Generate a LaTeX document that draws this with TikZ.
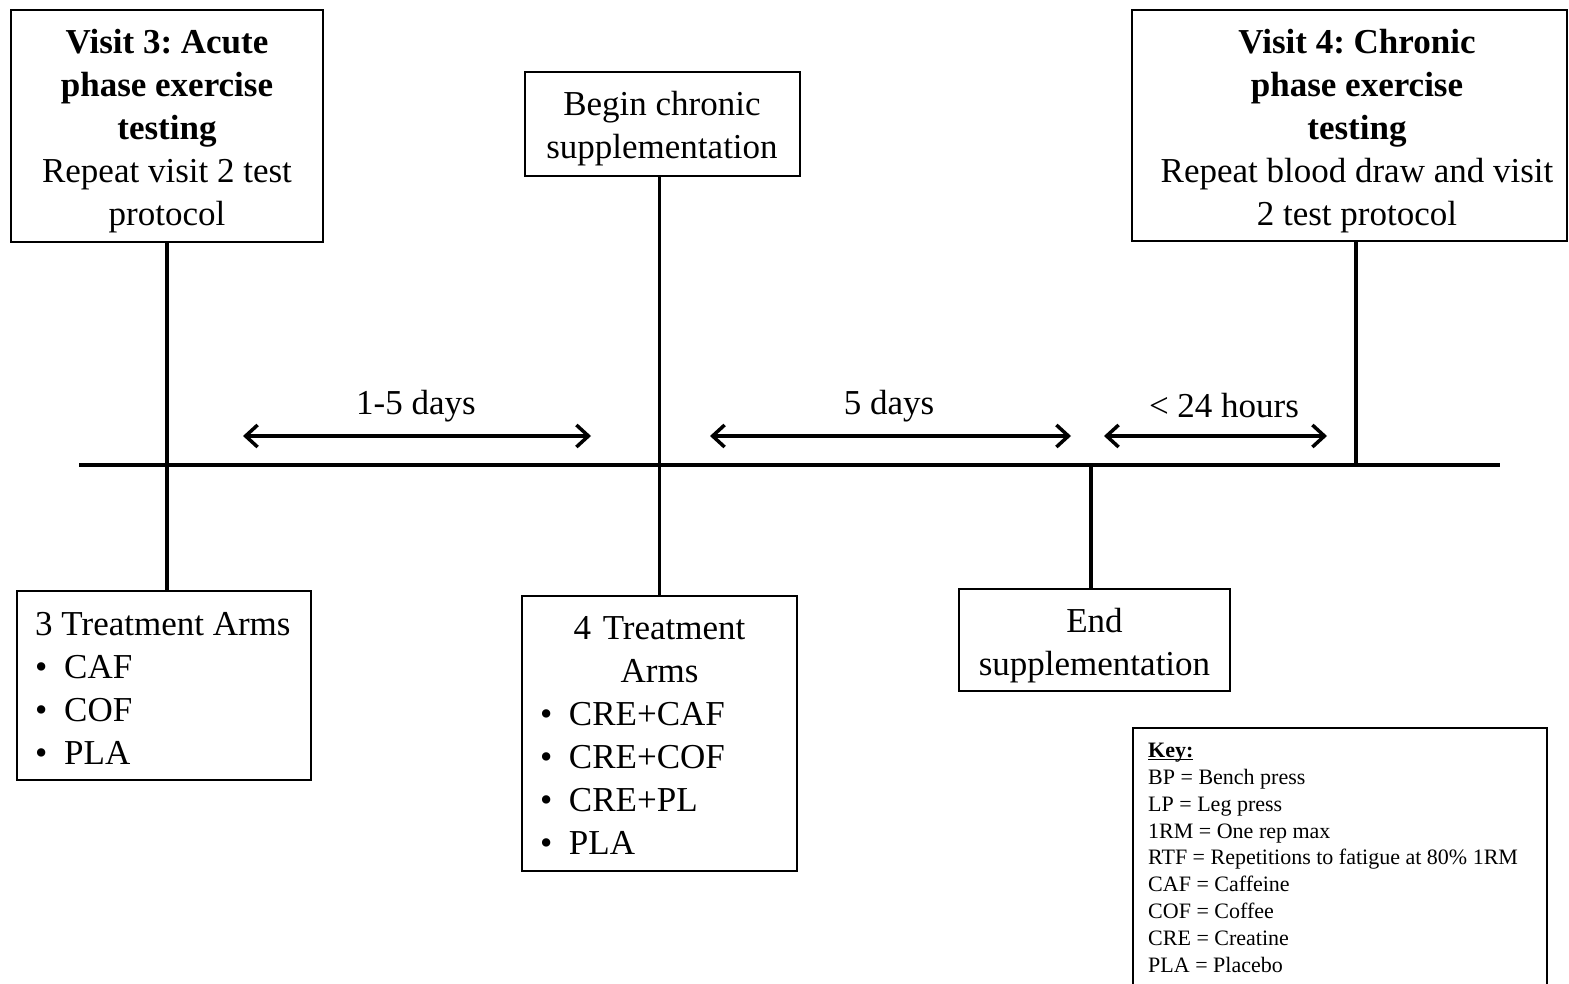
\documentclass[tikz,border=0pt]{standalone}
\usepackage{fontspec}
\setmainfont{Liberation Serif}
\usetikzlibrary{arrows.meta}
\newcommand\bul{\makebox[29pt][l]{\textbullet}}
\frenchspacing
\begin{document}
\begin{tikzpicture}[x=1pt,y=-1pt,
  box/.style={draw, line width=2pt, inner sep=0pt},
  lbl/.style={inner sep=0pt, font=\fontsize{35}{43}\selectfont},
  vline/.style={line width=3.5pt},
  tline/.style={line width=4pt},
  span/.style={line width=3.5pt, {Straight Barb[length=12pt,width=22pt]}-{Straight Barb[length=12pt,width=22pt]}}
]
\useasboundingbox (0,0) rectangle (1569,984);

% top boxes
\node[box, minimum width=312pt, minimum height=232pt] (v3) at (167,126) {};
\node[lbl, align=center] (v3t) at (167,131)
  {\textbf{Visit 3: Acute}\\\textbf{phase exercise}\\\textbf{testing}\\Repeat visit 2 test\\protocol};
\node[box, minimum width=275pt, minimum height=104pt] (bc) at (662.5,124) {};
\node[lbl, align=center] (bct) at (662,129) {Begin chronic\\supplementation};
\node[box, minimum width=435pt, minimum height=231pt] (v4) at (1349.5,125.5) {};
\node[lbl, align=center] (v4t) at (1357,131)
  {\textbf{Visit 4: Chronic}\\\textbf{phase exercise}\\\textbf{testing}\\Repeat blood draw and visit\\2 test protocol};

% bottom boxes
\node[box, minimum width=294pt, minimum height=189pt] (t3) at (164,685.5) {};
\node[lbl, align=left, anchor=west] (t3t) at (35,688.5)
  {3 Treatment Arms\\\bul CAF\\\bul COF\\\bul PLA};
\node[box, minimum width=275pt, minimum height=275pt] (t4) at (659.5,733.5) {};
\node[lbl, align=left, text width=239pt] (t4t) at (659.5,735.5)
  {\makebox[239pt]{4 Treatment}\\\makebox[239pt]{Arms}\\\bul CRE+CAF\\\bul CRE+COF\\\bul CRE+PL\\\bul PLA};
\node[box, minimum width=271pt, minimum height=102pt] (es) at (1094.5,640) {};
\node[lbl, align=center] (est) at (1094.5,646) {End\\supplementation};

% key
\node[box, minimum width=414pt, minimum height=300pt, anchor=north west] (key) at (1132,727) {};
\node[anchor=north west, align=left, inner sep=0pt, font=\fontsize{22}{26.8}\selectfont] (keyt) at (1148,743)
  {\textbf{\underline{\raisebox{0pt}[\height][0pt]{Key:}}}\\BP = Bench press\\LP = Leg press\\1RM = One rep max\\RTF = Repetitions to fatigue at 80\% 1RM\\CAF = Caffeine\\COF = Coffee\\CRE = Creatine\\PLA = Placebo};

% timeline
\coordinate (tl) at (79,465);
\coordinate (tr) at (1500,465);
\coordinate (e1) at (1091,465);
\coordinate (c4) at (1356,465);
\draw[tline] (tl) -- (tr);

% vertical connectors
\draw[vline] (v3.south) -- (v3.south |- t3.north);
\draw[vline] (t4.north |- bc.south) -- (t4.north);
\draw[vline] (e1) -- (e1 |- es.north);
\draw[vline] (c4 |- v4.south) -- (c4);

% spans
\coordinate (a1l) at (243,436); \coordinate (a1r) at (591,436);
\coordinate (a2l) at (710,436); \coordinate (a2r) at (1071,436);
\coordinate (a3l) at (1104,436); \coordinate (a3r) at (1327,436);
\draw[span] (a1l) -- (a1r);
\draw[span] (a2l) -- (a2r);
\draw[span] (a3l) -- (a3r);
\node[lbl, anchor=base] (l1) at (416,414) {1-5 days};
\node[lbl, anchor=base] (l2) at (889,414) {5 days};
\node[lbl, anchor=base] (l3) at (1224,417) {< 24 hours};
\end{tikzpicture}
\end{document}
